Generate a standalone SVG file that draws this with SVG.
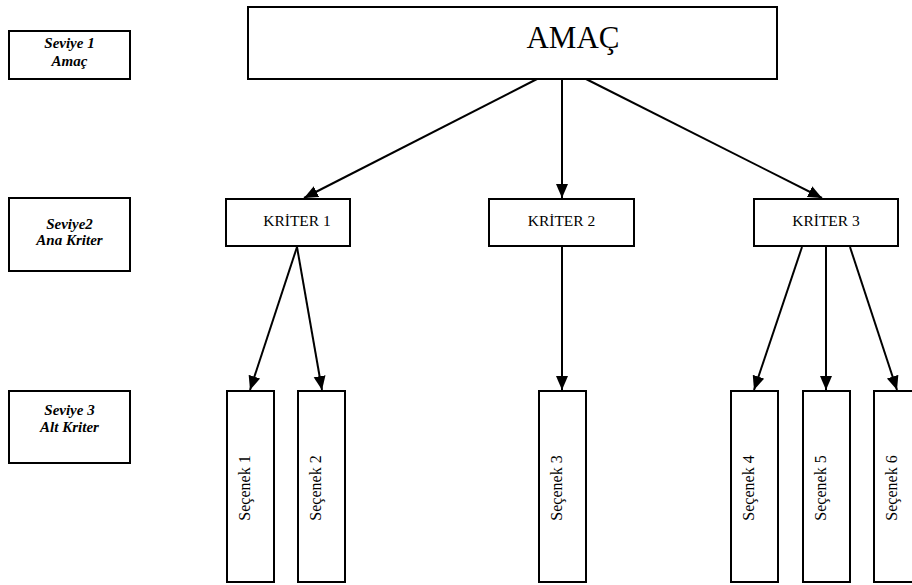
<svg xmlns="http://www.w3.org/2000/svg" width="912" height="585" viewBox="0 0 912 585">
  <style>
    .box { fill: #fff; stroke: #000; stroke-width: 2; }
    .lvl { font-family: "Liberation Serif", "Times New Roman", serif; font-style: italic; font-weight: bold; font-size: 15px; text-anchor: middle; }
    .lbl { font-family: "Liberation Serif", "Times New Roman", serif; font-size: 15.5px; text-anchor: middle; }
    .opt { font-family: "Liberation Serif", "Times New Roman", serif; font-size: 16px; text-anchor: middle; }
    .big { font-family: "Liberation Serif", "Times New Roman", serif; font-size: 31px; text-anchor: middle; }
    .edge { stroke: #000; stroke-width: 2; fill: none; marker-end: url(#arrow); }
  </style>
  <defs>
    <marker id="arrow" markerUnits="userSpaceOnUse" markerWidth="14" markerHeight="14" viewBox="0 0 14 14" refX="14" refY="7" orient="auto">
      <path d="M0,1 L14,7 L0,13 Z" fill="#000"/>
    </marker>
  </defs>
  <rect width="912" height="585" fill="#fff"/>

  <!-- level legend -->
  <g id="level1">
    <rect class="box" x="9" y="31" width="121" height="48"/>
    <text class="lvl" x="69.5" y="48">Seviye 1</text>
    <text class="lvl" x="69.5" y="66">Amaç</text>
  </g>
  <g id="level2">
    <rect class="box" x="9" y="198" width="121" height="73"/>
    <text class="lvl" x="69.5" y="229">Seviye2</text>
    <text class="lvl" x="69.5" y="245">Ana Kriter</text>
  </g>
  <g id="level3">
    <rect class="box" x="9" y="391" width="121" height="72"/>
    <text class="lvl" x="69.5" y="415">Seviye 3</text>
    <text class="lvl" x="69.5" y="432">Alt Kriter</text>
  </g>

  <!-- connectors -->
  <g id="connectors">
    <line class="edge" x1="537" y1="79" x2="304" y2="198"/>
    <line class="edge" x1="562" y1="79" x2="562" y2="198"/>
    <line class="edge" x1="586" y1="79" x2="822" y2="198"/>
    <line class="edge" x1="297" y1="247" x2="250" y2="390"/>
    <line class="edge" x1="297" y1="247" x2="322" y2="390"/>
    <line class="edge" x1="562" y1="247" x2="562" y2="390"/>
    <line class="edge" x1="802" y1="247" x2="754" y2="390"/>
    <line class="edge" x1="826" y1="247" x2="826" y2="390"/>
    <line class="edge" x1="850" y1="247" x2="897" y2="390"/>
  </g>

  <!-- goal -->
  <g id="goal">
    <rect class="box" x="248" y="7" width="529" height="72"/>
    <text class="big" x="573" y="48">AMAÇ</text>
  </g>

  <!-- criteria -->
  <g id="criterion1">
    <rect class="box" x="226" y="199" width="124" height="47"/>
    <text class="lbl" x="297" y="226">KRİTER 1</text>
  </g>
  <g id="criterion2">
    <rect class="box" x="489" y="199" width="145" height="47"/>
    <text class="lbl" x="561.5" y="226">KRİTER 2</text>
  </g>
  <g id="criterion3">
    <rect class="box" x="754" y="199" width="144" height="47"/>
    <text class="lbl" x="826" y="226">KRİTER 3</text>
  </g>

  <!-- alternatives -->
  <g id="option1">
    <rect class="box" x="227" y="391" width="47" height="191"/>
    <text class="opt" transform="translate(250,488) rotate(-90)">Seçenek 1</text>
  </g>
  <g id="option2">
    <rect class="box" x="298" y="391" width="47" height="191"/>
    <text class="opt" transform="translate(321,488) rotate(-90)">Seçenek 2</text>
  </g>
  <g id="option3">
    <rect class="box" x="539" y="391" width="47" height="191"/>
    <text class="opt" transform="translate(562,488) rotate(-90)">Seçenek 3</text>
  </g>
  <g id="option4">
    <rect class="box" x="731" y="391" width="47" height="191"/>
    <text class="opt" transform="translate(754,488) rotate(-90)">Seçenek 4</text>
  </g>
  <g id="option5">
    <rect class="box" x="803" y="391" width="47" height="191"/>
    <text class="opt" transform="translate(826,488) rotate(-90)">Seçenek 5</text>
  </g>
  <g id="option6">
    <rect class="box" x="874" y="391" width="47" height="191"/>
    <text class="opt" transform="translate(897,488) rotate(-90)">Seçenek 6</text>
  </g>
</svg>
